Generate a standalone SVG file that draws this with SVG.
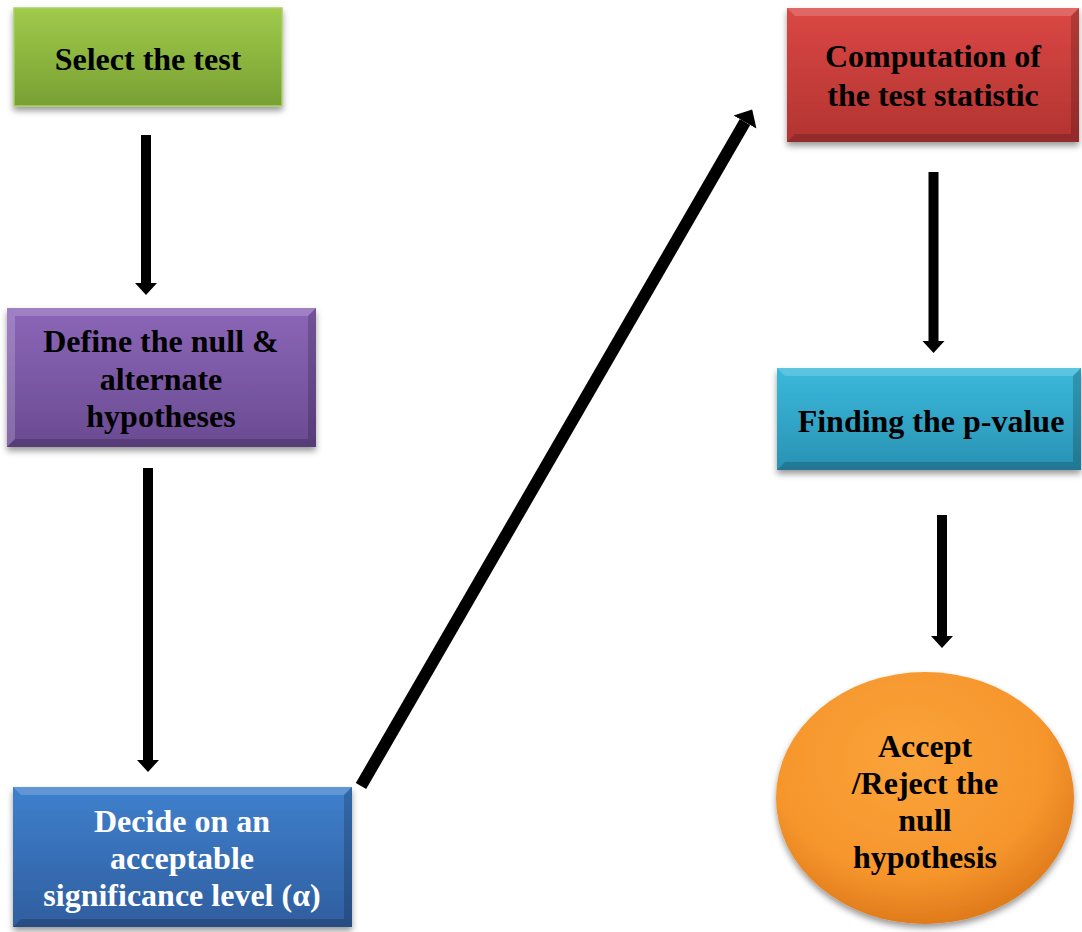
<svg xmlns="http://www.w3.org/2000/svg" width="1082" height="932" viewBox="0 0 1082 932">
<style>
.t{font-family:"Liberation Serif","Times New Roman",serif;font-weight:bold;font-size:32px;text-anchor:middle;fill:#000}
.w{fill:#fff}
.bl{fill:#fff;opacity:0.18}
.bd{fill:#000;opacity:0.18}
.arr{stroke:#000;fill:none;marker-end:url(#ah)}
</style>
<defs>
<filter id="sh" x="-10%" y="-10%" width="120%" height="130%">
<feDropShadow dx="0" dy="4" stdDeviation="3" flood-color="#000" flood-opacity="0.4"/>
</filter>
<linearGradient id="gG" x1="0" y1="0" x2="0" y2="1"><stop offset="0" stop-color="#9fca4b"/><stop offset="1" stop-color="#78a033"/></linearGradient>
<linearGradient id="gP" x1="0" y1="0" x2="0" y2="1"><stop offset="0" stop-color="#8c66b8"/><stop offset="1" stop-color="#6a4b92"/></linearGradient>
<linearGradient id="gB" x1="0" y1="0" x2="0" y2="1"><stop offset="0" stop-color="#3f80cd"/><stop offset="1" stop-color="#2f5e9f"/></linearGradient>
<linearGradient id="gR" x1="0" y1="0" x2="0" y2="1"><stop offset="0" stop-color="#db4744"/><stop offset="1" stop-color="#b23431"/></linearGradient>
<linearGradient id="gC" x1="0" y1="0" x2="0" y2="1"><stop offset="0" stop-color="#3ab9db"/><stop offset="1" stop-color="#2a92b3"/></linearGradient>
<radialGradient id="gO" cx="0.45" cy="0.35" r="0.65"><stop offset="0" stop-color="#fba33a"/><stop offset="0.7" stop-color="#f6962c"/><stop offset="1" stop-color="#e07b1c"/></radialGradient>
<marker id="ah" viewBox="0 0 12 22" refX="0" refY="11" markerWidth="1.2" markerHeight="2.3" orient="auto" markerUnits="strokeWidth">
<path d="M0,0 L12,11 L0,22 Z" fill="#000"/>
</marker>
</defs>
<rect width="1082" height="932" fill="#fff"/>

<g id="connectors">
<line class="arr" x1="146" y1="135" x2="146" y2="283" stroke-width="10"/>
<line class="arr" x1="148" y1="468" x2="148" y2="760" stroke-width="10"/>
<line class="arr" x1="361" y1="786" x2="745" y2="122" stroke-width="12"/>
<line class="arr" x1="933.5" y1="172" x2="933.5" y2="341" stroke-width="10"/>
<line class="arr" x1="942" y1="515" x2="942" y2="636" stroke-width="10"/>
</g>

<g id="select-test">
<rect x="14" y="8" width="268" height="98" fill="url(#gG)" stroke="#a9d163" stroke-width="1.5" filter="url(#sh)"/>
<text class="t" x="148" y="70">Select the test</text>
</g>

<g id="define-hypotheses">
<rect x="7" y="308" width="309" height="139" fill="url(#gP)" filter="url(#sh)"/>
<polygon class="bl" points="7,308 316,308 308,316 15,316"/>
<polygon class="bl" points="7,308 15,316 15,439 7,447" opacity="0.1"/>
<polygon class="bd" points="316,308 316,447 308,439 308,316"/>
<polygon class="bd" points="7,447 15,439 308,439 316,447"/>
<text class="t" x="161" y="352">Define the null &amp;</text>
<text class="t" x="161" y="390">alternate</text>
<text class="t" x="161" y="427">hypotheses</text>
</g>

<g id="significance-level">
<rect x="13" y="787" width="339" height="140" fill="url(#gB)" filter="url(#sh)"/>
<polygon class="bl" points="13,787 352,787 344,795 21,795"/>
<polygon class="bd" points="352,787 352,927 344,919 344,795"/>
<polygon class="bd" points="13,927 21,919 344,919 352,927"/>
<text class="t w" x="182" y="832">Decide on an</text>
<text class="t w" x="182" y="869">acceptable</text>
<text class="t w" x="182" y="906">significance level (α)</text>
</g>

<g id="test-statistic">
<rect x="787" y="8" width="292" height="134" fill="url(#gR)" filter="url(#sh)"/>
<polygon class="bl" points="787,8 1079,8 1071,16 795,16"/>
<polygon class="bd" points="1079,8 1079,142 1071,134 1071,16"/>
<polygon class="bd" points="787,142 795,134 1071,134 1079,142"/>
<text class="t" x="933" y="67">Computation of</text>
<text class="t" x="933" y="106">the test statistic</text>
</g>

<g id="p-value">
<rect x="777" y="368" width="304" height="102" fill="url(#gC)" filter="url(#sh)"/>
<polygon class="bl" points="777,368 1081,368 1073,376 785,376"/>
<polygon class="bd" points="1081,368 1081,470 1073,462 1073,376"/>
<polygon class="bd" points="777,470 785,462 1073,462 1081,470"/>
<text class="t" x="931" y="432">Finding the p-value</text>
</g>

<g id="decision">
<ellipse cx="925" cy="798" rx="149" ry="126" fill="url(#gO)" filter="url(#sh)"/>
<text class="t" x="925" y="757">Accept</text>
<text class="t" x="925" y="794">/Reject the</text>
<text class="t" x="925" y="831">null</text>
<text class="t" x="925" y="868">hypothesis</text>
</g>
</svg>
